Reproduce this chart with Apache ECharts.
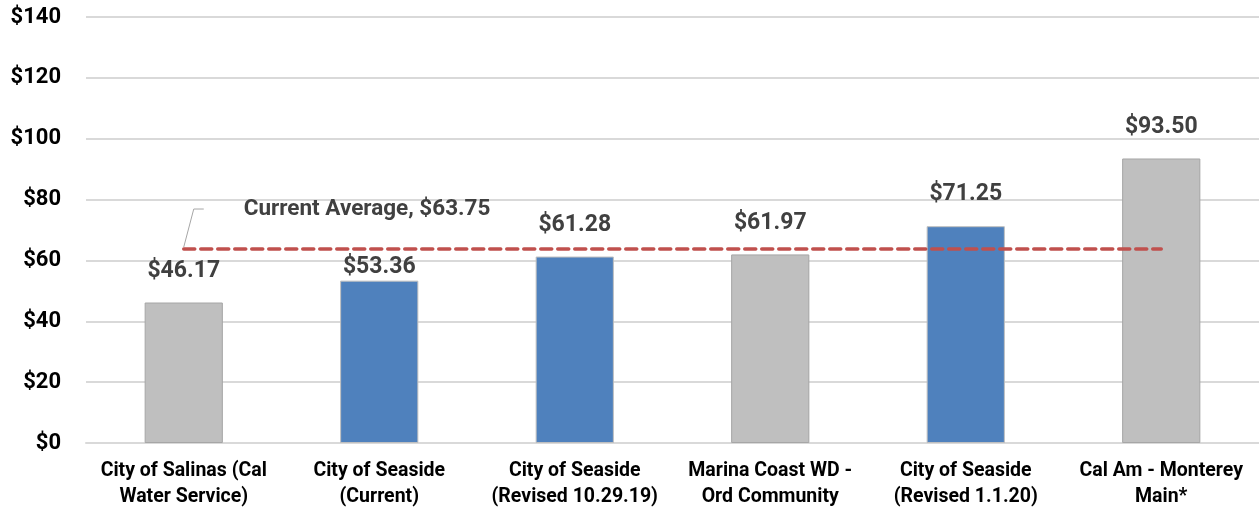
<!DOCTYPE html>
<html>
<head>
<meta charset="utf-8">
<script src="https://cdn.jsdelivr.net/npm/echarts@6/dist/echarts.min.js"></script>
<style>
  html, body { margin: 0; padding: 0; background: #fff; }
  #chart { width: 1259px; height: 513px; }
</style>
</head>
<body>
<div id="chart"></div>
<script>
var categories = [
  "City of Salinas (Cal\nWater Service)",
  "City of Seaside\n(Current)",
  "City of Seaside\n(Revised 10.29.19)",
  "Marina Coast WD -\nOrd Community",
  "City of Seaside\n(Revised 1.1.20)",
  "Cal Am - Monterey\nMain*"
];
var bills = [46.17, 53.36, 61.28, 61.97, 71.25, 93.5];
var currentAverage = 63.75;
var yTicks = [0, 140, 20]; // min, max, interval

function initChart(chartDom, echarts) {
  var myChart = echarts.init(chartDom);
  var font = "Roboto, 'Noto Sans', sans-serif";

  var barData = bills.map(function (v, i) {
    var seaside = categories[i].indexOf("City of Seaside") === 0;
    var item = {
      value: v,
      itemStyle: {
        color: seaside ? "#4F81BD" : "#BFBFBF",
        borderColor: seaside ? "#BFBFBF" : "#A6A6A6",
        borderWidth: 1,
      },
    };
    // label would sit on the average line, pull it down close to the bar
    if (currentAverage > v + 6 && currentAverage < v + 15) {
      item.label = { distance: 2 };
    }
    return item;
  });

  var option = {
    animation: false,
    grid: { left: 86, right: 0, top: 17, bottom: 70 },
    xAxis: {
      type: "category",
      data: categories,
      axisLine: { lineStyle: { color: "#D9D9D9", width: 2 } },
      axisTick: { show: false },
      axisLabel: {
        interval: 0,
        margin: 15,
        color: "#000",
        fontFamily: font,
        fontWeight: "bold",
        fontSize: 19.5,
        lineHeight: 26,
      },
    },
    yAxis: {
      type: "value",
      min: yTicks[0],
      max: yTicks[1],
      interval: yTicks[2],
      axisLine: { show: false },
      axisTick: { show: false },
      splitLine: { lineStyle: { color: "#D9D9D9", width: 2 } },
      axisLabel: {
        margin: 25,
        color: "#000",
        fontFamily: font,
        fontWeight: "bold",
        fontSize: 22,
        formatter: function (v) {
          return "$" + v;
        },
      },
    },
    series: [
      {
        type: "bar",
        barWidth: "40%",
        data: barData,
        label: {
          show: true,
          position: "top",
          distance: 20,
          color: "#404040",
          fontFamily: font,
          fontWeight: "bold",
          fontSize: 23,
          formatter: function (p) {
            return "$" + p.value.toFixed(2);
          },
        },
        markLine: {
          silent: true,
          symbol: "none",
          label: { show: false },
          lineStyle: { color: "#C0504D", width: 3.5, type: [11, 6], cap: "round" },
          data: [
            [
              { xAxis: 0, yAxis: currentAverage },
              { xAxis: categories.length - 1, yAxis: currentAverage },
            ],
          ],
        },
      },
    ],
  };

  myChart.setOption(option);

  // callout for the average line
  var p = myChart.convertToPixel({ seriesIndex: 0 }, [0, currentAverage]);
  myChart.setOption({
    graphic: [
      {
        type: "polyline",
        shape: {
          points: [
            [p[0], p[1] - 2],
            [p[0] + 10, p[1] - 40],
            [p[0] + 20, p[1] - 40],
          ],
        },
        style: { stroke: "#A6A6A6", lineWidth: 1, fill: null },
        silent: true,
      },
      {
        type: "text",
        x: p[0] + 60,
        y: p[1] - 40,
        style: {
          text: "Current Average, $" + currentAverage.toFixed(2),
          fill: "#404040",
          font: "bold 22.5px " + font,
          textVerticalAlign: "middle",
        },
        silent: true,
      },
    ],
  });
}

initChart(document.getElementById("chart"), echarts);
</script>
</body>
</html>
